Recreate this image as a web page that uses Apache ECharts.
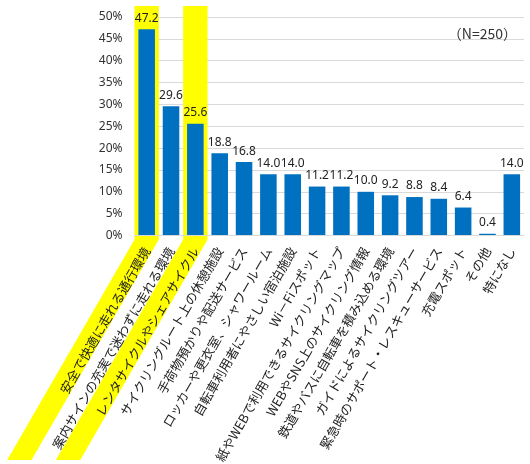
<!DOCTYPE html>
<html>
<head>
<meta charset="utf-8">
<script src="https://cdn.jsdelivr.net/npm/echarts@6/dist/echarts.min.js"></script>
<style>
html,body{margin:0;padding:0;background:#fff;}
#c{width:530px;height:464px;}
</style>
</head>
<body>
<div id="c"></div>
<script>
const categories = [
  '安全で快適に走れる通行環境',
  '案内サインの充実で迷わずに走れる環境',
  'レンタサイクルやシェアサイクル',
  'サイクリングルート上の休憩施設',
  '手荷物預かりや配送サービス',
  'ロッカーや更衣室、シャワールーム',
  '自転車利用者にやさしい宿泊施設',
  'Wi－Fiスポット',
  '紙やWEBで利用できるサイクリングマップ',
  'WEBやSNS上のサイクリング情報',
  '鉄道やバスに自転車を積み込める環境',
  'ガイドによるサイクリングツアー',
  '緊急時のサポート・レスキューサービス',
  '充電スポット',
  'その他',
  '特になし'
];
const values = [47.2, 29.6, 25.6, 18.8, 16.8, 14.0, 14.0, 11.2, 11.2, 10.0, 9.2, 8.8, 8.4, 6.4, 0.4, 14.0];
const highlighted = [0, 2];
const yTicks = [0, 5, 10, 15, 20, 25, 30, 35, 40, 45, 50];
const sampleNote = '（N=250）';

const FONT = "'Noto Sans CJK JP', 'Noto Sans', sans-serif";
const NUMFONT = "'Noto Sans', 'Noto Sans CJK JP', sans-serif";
const LABEL_MARGIN = 13;
const BAND_KINK = 4;

const chart = echarts.init(document.getElementById('c'), null, {renderer: 'canvas'});
const option = {
  animation: false,
  backgroundColor: '#ffffff',
  title: {
    text: sampleNote,
    right: 8,
    top: 22,
    textStyle: {fontFamily: FONT, fontSize: 14, fontWeight: 'normal', color: '#333'}
  },
  grid: {left: 134.5, right: 6, top: 17, bottom: 228.5, containLabel: false, outerBoundsMode: 'none'},
  xAxis: {
    type: 'category',
    data: categories,
    z: 3,
    axisTick: {show: false},
    axisLine: {show: true, lineStyle: {color: '#d9d9d9', width: 1}},
    axisLabel: {
      interval: 0,
      rotate: 60,
      margin: LABEL_MARGIN,
      fontFamily: FONT,
      fontSize: 12.8,
      color: '#222'
    }
  },
  yAxis: {
    type: 'value',
    min: yTicks[0],
    max: yTicks[yTicks.length - 1],
    interval: yTicks[1] - yTicks[0],
    z: 0,
    axisLine: {show: false},
    axisTick: {show: false},
    axisLabel: {
      formatter: '{value}%',
      margin: 12,
      fontFamily: NUMFONT,
      fontSize: 12,
      color: '#333'
    },
    splitLine: {lineStyle: {color: '#d9d9d9', width: 1}}
  },
  series: [{
    type: 'bar',
    data: values,
    z: 2,
    barCategoryGap: '32%',
    itemStyle: {color: '#0070c0'},
    label: {
      show: true,
      position: 'top',
      distance: 5,
      formatter: p => p.value.toFixed(1),
      fontFamily: NUMFONT,
      fontSize: 12,
      color: '#222'
    }
  }]
};
chart.setOption(option);

function drawHighlights() {
  const y0 = chart.convertToPixel({yAxisIndex: 0}, yTicks[0]);
  const yMax = chart.convertToPixel({yAxisIndex: 0}, yTicks[yTicks.length - 1]);
  const c0 = chart.convertToPixel({xAxisIndex: 0}, 0);
  const c1 = chart.convertToPixel({xAxisIndex: 0}, 1);
  const hw = (c1 - c0) / 2;
  const yTop = yMax - 11;
  const yk = y0 + BAND_KINK;
  const yB = chart.getHeight() - 4;
  const cot = 1 / Math.tan(60 * Math.PI / 180);
  const shift = (yB - yk) * cot;
  const elements = highlighted.map(i => {
    const cx = chart.convertToPixel({xAxisIndex: 0}, i);
    return {
      type: 'polygon',
      z: 1,
      silent: true,
      shape: {points: [
        [cx - hw, yTop], [cx + hw, yTop], [cx + hw, yk],
        [cx + hw - shift, yB], [cx - hw - shift, yB], [cx - hw, yk]
      ]},
      style: {fill: '#ffff00'}
    };
  });
  chart.setOption({graphic: {elements: elements}});
}
drawHighlights();
</script>
</body>
</html>
